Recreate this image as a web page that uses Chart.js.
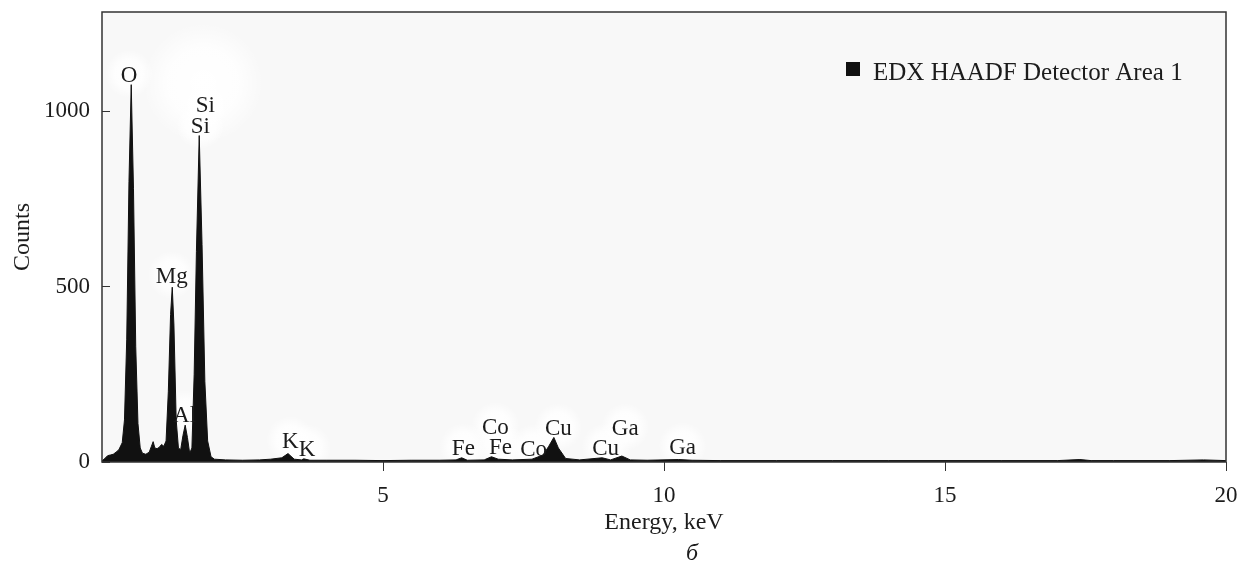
<!DOCTYPE html>
<html>
<head>
<meta charset="utf-8">
<script src="https://cdn.jsdelivr.net/npm/chart.js@4.4.0/dist/chart.umd.min.js"></script>
<style>
html, body { margin: 0; padding: 0; background: #fff; }
</style>
</head>
<body>
<canvas id="edxChart" width="1240" height="567"></canvas>
<script>
// spectrum (keV / counts)
var energy = [0.00, 0.05, 0.10, 0.15, 0.20, 0.25, 0.30, 0.36, 0.40, 0.44, 0.48, 0.52, 0.56, 0.60, 0.64, 0.68, 0.72, 0.78,
    0.84, 0.88, 0.91, 0.94, 0.98, 1.02, 1.06, 1.10, 1.14, 1.18, 1.22, 1.25, 1.28, 1.32, 1.36, 1.40, 1.44, 1.48, 1.52,
    1.56, 1.60, 1.64, 1.68, 1.73, 1.78, 1.83, 1.88, 1.94, 2.00, 2.20, 2.50, 2.80, 3.00, 3.20, 3.31, 3.42, 3.55, 3.59,
    3.70, 4.00, 4.50, 5.00, 5.50, 6.00, 6.30, 6.40, 6.50, 6.80, 6.93, 7.05, 7.30, 7.65, 7.85, 7.95, 8.04, 8.12, 8.25,
    8.50, 8.90, 9.05, 9.25, 9.40, 9.70, 10.26, 10.50, 11.0, 12.0, 13.0, 14.0, 15.0, 16.0, 17.0, 17.4, 17.6, 18.0,
    19.0, 19.6, 20.0];
var counts = [3, 10, 18, 20, 22, 28, 35, 55, 120, 350, 800, 1075, 780, 330, 110, 40, 25, 22,
    28, 45, 58, 40, 38, 42, 50, 45, 60, 200, 420, 498, 390, 120, 40, 35, 75, 105, 70,
    25, 40, 250, 600, 930, 620, 230, 60, 15, 8, 6, 5, 6, 8, 12, 24, 8, 6, 9,
    5, 5, 5, 4, 5, 5, 6, 12, 5, 6, 15, 8, 6, 8, 20, 45, 70, 40, 10,
    6, 12, 6, 17, 6, 5, 7, 5, 4, 4, 4, 4, 4, 4, 4, 7, 4, 4,
    4, 6, 4];

// peak labels
var peakNames  = ['O', 'Si', 'Si', 'Mg', 'Al', 'K', 'K', 'Fe', 'Co', 'Fe', 'Co', 'Cu', 'Cu', 'Ga', 'Ga'];
var peakEnergy = [0.48, 1.84, 1.75, 1.24, 1.47, 3.35, 3.65, 6.43, 7.00, 7.09, 7.68, 8.12, 8.96, 9.31, 10.33];
var peakCounts = [1083, 997, 937, 510, 114, 40, 17, 20, 80, 23, 17, 77, 20, 77, 23];

var xTicks = [5, 10, 15, 20];
var yTicks = [0, 500, 1000];
var seriesName = 'EDX HAADF Detector Area 1';

var serif = '"Liberation Serif", "Times New Roman", serif';
var ink = '#1c1c1c';

var points = energy.map(function (e, i) { return { x: e, y: counts[i] }; });

var decor = {
    id: 'decor',
    beforeDatasetsDraw: function (chart) {
        var c = chart.ctx, a = chart.chartArea;
        var xs = chart.scales.x, ys = chart.scales.y;
        c.save();
        c.fillStyle = '#f8f8f8';
        c.fillRect(a.left, a.top, a.right - a.left, a.bottom - a.top);
        // soft white patches behind labels
        function glow(x, y, r) {
            var g = c.createRadialGradient(x, y, 0, x, y, r);
            g.addColorStop(0, 'rgba(255,255,255,1)');
            g.addColorStop(0.6, 'rgba(255,255,255,0.8)');
            g.addColorStop(1, 'rgba(255,255,255,0)');
            c.fillStyle = g;
            c.beginPath();
            c.arc(x, y, r, 0, Math.PI * 2);
            c.fill();
        }
        glow(xs.getPixelForValue(1.8), ys.getPixelForValue(1080), 60);
        for (var i = 0; i < peakNames.length; i++) {
            glow(xs.getPixelForValue(peakEnergy[i]), ys.getPixelForValue(peakCounts[i]) - 8, 24);
        }
        c.restore();
    },
    afterDatasetsDraw: function (chart) {
        var c = chart.ctx, a = chart.chartArea;
        var xs = chart.scales.x, ys = chart.scales.y;
        c.save();
        // element labels
        c.font = '23px ' + serif;
        c.fillStyle = ink;
        c.textAlign = 'center';
        c.textBaseline = 'alphabetic';
        for (var i = 0; i < peakNames.length; i++) {
            c.fillText(peakNames[i], xs.getPixelForValue(peakEnergy[i]), ys.getPixelForValue(peakCounts[i]));
        }
        // frame
        c.strokeStyle = '#333';
        c.lineWidth = 1.5;
        c.strokeRect(a.left, a.top, a.right - a.left, a.bottom - a.top);
        // inward y ticks
        c.lineWidth = 1;
        yTicks.forEach(function (v) {
            var y = Math.round(ys.getPixelForValue(v)) + 0.5;
            c.beginPath();
            c.moveTo(a.left, y);
            c.lineTo(a.left + 8, y);
            c.stroke();
        });
        // legend
        c.fillStyle = '#111';
        c.fillRect(a.right - 380, a.top + 50, 14, 14);
        c.fillStyle = ink;
        c.font = '25px ' + serif;
        c.textAlign = 'left';
        c.fillText(seriesName, a.right - 353, a.top + 68);
        // panel letter
        c.font = 'italic 24px ' + serif;
        c.textAlign = 'center';
        c.fillText('б', (a.left + a.right) / 2 + 28, 560);
        c.restore();
    }
};

var ctx = document.getElementById('edxChart').getContext('2d');
var edxChart = new Chart(ctx, {
    type: 'line',
    data: {
        datasets: [{
            label: seriesName,
            data: points,
            borderColor: '#111',
            backgroundColor: '#111',
            borderWidth: 1,
            pointRadius: 0,
            tension: 0,
            fill: 'origin'
        }]
    },
    options: {
        responsive: false,
        animation: false,
        layout: { padding: { top: 12, right: 14, left: 0, bottom: 0 } },
        plugins: {
            legend: { display: false },
            tooltip: { enabled: false }
        },
        scales: {
            x: {
                type: 'linear',
                min: 0,
                max: 20,
                afterFit: function (s) {
                    s.height = 105;
                    s.paddingLeft = 0;
                    s.paddingRight = 0;
                },
                afterBuildTicks: function (s) {
                    s.ticks = xTicks.map(function (v) { return { value: v }; });
                },
                border: { display: false },
                grid: { drawOnChartArea: false, tickLength: 9, color: '#333' },
                ticks: {
                    color: ink, padding: 11, maxRotation: 0,
                    font: { family: serif, size: 23 },
                    callback: function (v) { return String(v); }
                },
                title: {
                    display: true,
                    text: 'Energy, keV',
                    color: ink,
                    padding: { top: 0, bottom: 30 },
                    font: { family: serif, size: 24 }
                }
            },
            y: {
                min: 0,
                max: 1282,
                afterFit: function (s) {
                    s.width = 102;
                    s.paddingTop = 0;
                    s.paddingBottom = 0;
                },
                afterBuildTicks: function (s) {
                    s.ticks = yTicks.map(function (v) { return { value: v }; });
                },
                border: { display: false },
                grid: { display: false, drawTicks: false },
                ticks: {
                    color: ink, padding: 12,
                    font: { family: serif, size: 23 },
                    callback: function (v) { return String(v); }
                },
                title: {
                    display: true,
                    text: 'Counts',
                    color: ink,
                    padding: { top: 8, bottom: 0 },
                    font: { family: serif, size: 24 }
                }
            }
        }
    },
    plugins: [decor]
});
</script>
</body>
</html>
